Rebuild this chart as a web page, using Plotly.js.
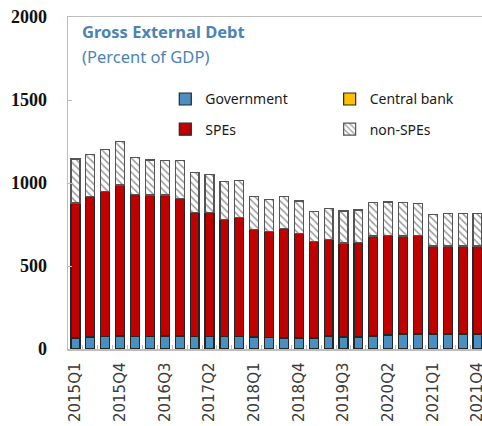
<!DOCTYPE html>
<html>
<head>
<meta charset="utf-8">
<script src="https://cdn.plot.ly/plotly-3.0.1.min.js"></script>
<style>html,body{margin:0;padding:0;background:#fff;}#chart{width:482px;height:426px;}</style>
</head>
<body>
<div id="chart"></div>
<script>
const quarters = [
  "2015Q1","2015Q2","2015Q3","2015Q4","2016Q1","2016Q2","2016Q3","2016Q4",
  "2017Q1","2017Q2","2017Q3","2017Q4","2018Q1","2018Q2","2018Q3","2018Q4",
  "2019Q1","2019Q2","2019Q3","2019Q4","2020Q1","2020Q2","2020Q3","2020Q4",
  "2021Q1","2021Q2","2021Q3","2021Q4"
];
const labelledQuarters = ["2015Q1","2015Q4","2016Q3","2017Q2","2018Q1","2018Q4","2019Q3","2020Q2","2021Q1","2021Q4"];
const government = [66,72,74,78,74,74,76,76,74,74,74,74,70,68,66,66,66,76,70,72,76,82,88,90,88,90,90,90];
const centralBank = [3,3,3,3,3,3,3,3,3,3,3,3,3,3,3,3,3,3,3,3,3,3,3,3,3,3,3,3];
const spes = [810,846,874,907,855,851,849,829,744,743,703,715,646,637,659,627,581,583,565,568,602,599,590,593,529,527,527,527];
const nonSpes = [266,253,252,262,224,211,209,227,240,230,229,225,202,192,190,195,180,183,193,194,202,201,200,189,188,196,198,198];
const yTicks = [0,500,1000,1500,2000];

const lineCol = "#262626";
function bar(name, y, color, legend, group, extra) {
  return Object.assign({
    type: "bar", name: name, x: quarters, y: y, legend: legend, legendgroup: group,
    marker: {color: color, line: {color: lineCol, width: 1.2}},
    hoverinfo: "skip"
  }, extra || {});
}
const data = [
  bar("Government", government, "#4b8fc0", "legend", "g1"),
  bar("Central bank", centralBank, "#ffc000", "legend2", "g2"),
  bar("SPEs", spes, "#c00000", "legend", "g3"),
  bar("non-SPEs", nonSpes, "#ffffff", "legend2", "g4", {
    marker: {color: "#ffffff", line: {color: "#555555", width: 1.2},
      pattern: {shape: "\\", fgcolor: "#9a9a9a", bgcolor: "#ffffff", size: 5, solidity: 0.3}}
  })
];

const legFont = {family: "Noto Sans, Open Sans, sans-serif", size: 14, color: "#1a1a1a"};
const titleColor = "#4a84b6";
const layout = {
  width: 482, height: 426,
  margin: {l: 68, r: 0, t: 17, b: 77},
  paper_bgcolor: "#ffffff", plot_bgcolor: "#ffffff",
  barmode: "stack", bargap: 0.4,
  showlegend: true,
  legend: {x: 0.235, y: 0.80, xanchor: "left", yanchor: "top", font: legFont,
    bgcolor: "rgba(0,0,0,0)", tracegroupgap: 9, traceorder: "grouped", itemclick: false},
  legend2: {x: 0.632, y: 0.80, xanchor: "left", yanchor: "top", font: legFont,
    bgcolor: "rgba(0,0,0,0)", tracegroupgap: 9, traceorder: "grouped", itemclick: false},
  xaxis: {
    type: "category", range: [-0.5, 27.3],
    tickmode: "array", tickvals: quarters,
    ticktext: quarters.map(q => labelledQuarters.includes(q) ? q : ""),
    tickson: "boundaries", ticks: "inside", ticklen: 4, tickcolor: "#bdbdbd", tickwidth: 1,
    tickangle: -90, ticklabelstandoff: 6,
    tickfont: {family: "DejaVu Sans, sans-serif", size: 15, color: "#3a3a3a"},
    showline: true, linecolor: "#bdbdbd", linewidth: 1.5, mirror: true,
    showgrid: false, zeroline: false, fixedrange: true
  },
  yaxis: {
    range: [0, 2000], tickmode: "array", tickvals: yTicks,
    ticks: "inside", ticklen: 4, tickcolor: "#bdbdbd",
    ticklabelstandoff: 16,
    tickfont: {family: "Liberation Serif, serif", size: 18, color: "#111111", weight: "bold"},
    showline: true, linecolor: "#bdbdbd", linewidth: 1.5, mirror: false,
    showgrid: false, zeroline: false, fixedrange: true
  },
  annotations: [
    {text: "<b>Gross External Debt</b>", xref: "paper", yref: "paper", x: 0.029, y: 0.955,
     xanchor: "left", yanchor: "middle", showarrow: false,
     font: {family: "Noto Sans, Open Sans, sans-serif", size: 16.5, color: titleColor}},
    {text: "(Percent of GDP)", xref: "paper", yref: "paper", x: 0.029, y: 0.8805,
     xanchor: "left", yanchor: "middle", showarrow: false,
     font: {family: "Noto Sans, Open Sans, sans-serif", size: 16.5, color: titleColor}}
  ]
};
Plotly.newPlot("chart", data, layout, {staticPlot: true, displayModeBar: false});
</script>
</body>
</html>
